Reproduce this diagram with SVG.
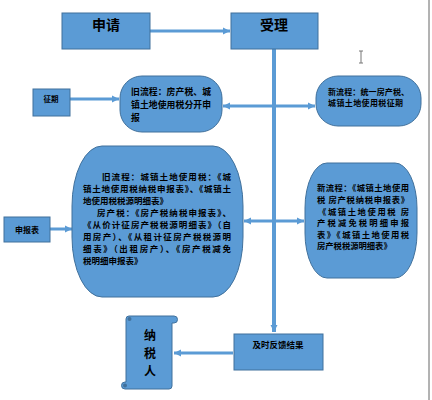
<svg xmlns="http://www.w3.org/2000/svg" width="432" height="400" viewBox="0 0 432 400">
<defs>
<style>
.box{fill:#5B9BD5;stroke:#41719C;stroke-width:1}
.t{font-family:"Noto Sans CJK SC","Liberation Sans",sans-serif;font-weight:bold;fill:#000}
.c{stroke:#5B9BD5;stroke-width:3;fill:none}
</style>
<marker id="ah" markerUnits="userSpaceOnUse" markerWidth="8" markerHeight="8" refX="7" refY="4" orient="auto">
<path d="M0,0.5 L7,4 L0,7.5 Z" fill="#5B9BD5"/>
</marker>
</defs>
<rect width="432" height="400" fill="#fff"/>
<line x1="429" y1="0" x2="429" y2="400" stroke="#666" stroke-width="1"/>
<g id="cursor" stroke="#777" stroke-width="1" fill="none">
<path d="M359,51 H363 M361,51 V63 M359,63 H363"/>
</g>
<g id="connectors">
<line class="c" x1="150" y1="31" x2="230" y2="31" marker-end="url(#ah)"/>
<line class="c" x1="274" y1="49" x2="274" y2="332" style="stroke-width:4" marker-end="url(#ah)"/>
<line class="c" x1="274" y1="106" x2="223" y2="106" marker-end="url(#ah)"/>
<line class="c" x1="274" y1="106" x2="315" y2="106" marker-end="url(#ah)"/>
<line class="c" x1="70" y1="99" x2="119" y2="99" marker-end="url(#ah)"/>
<line class="c" x1="274" y1="221" x2="244" y2="221" marker-end="url(#ah)"/>
<line class="c" x1="274" y1="221" x2="304" y2="221" marker-end="url(#ah)"/>
<line class="c" x1="50" y1="229" x2="72" y2="229" marker-end="url(#ah)"/>
<line class="c" x1="233" y1="353" x2="174" y2="353" marker-end="url(#ah)"/>
</g>
<g id="shenqing">
<rect class="box" x="62" y="13" width="88" height="36"/>
<text class="t" x="106" y="30" font-size="14" text-anchor="middle">申请</text>
</g>
<g id="shouli">
<rect class="box" x="231" y="13" width="87" height="36"/>
<text class="t" x="274" y="30" font-size="14" text-anchor="middle">受理</text>
</g>
<g id="zhengqi">
<rect class="box" x="33" y="89" width="37" height="27"/>
<text class="t" x="51" y="102" font-size="7.5" text-anchor="middle">征期</text>
</g>
<g id="old-process">
<rect class="box" x="120" y="76" width="102" height="56" rx="22" ry="22"/>
<text class="t" font-size="8.8"><tspan x="131" y="95" textLength="80" lengthAdjust="spacing">旧流程：房产税、城</tspan><tspan x="131" y="108" textLength="80" lengthAdjust="spacing">镇土地使用税分开申</tspan><tspan x="131" y="121">报</tspan></text>
</g>
<g id="new-process">
<rect class="box" x="316" y="76" width="105" height="50" rx="22" ry="22"/>
<text class="t" font-size="8"><tspan x="328" y="95" textLength="81" lengthAdjust="spacing">新流程：统一房产税、</tspan><tspan x="328" y="106" textLength="75" lengthAdjust="spacing">城镇土地使用税征期</tspan></text>
</g>
<g id="shenbaobiao">
<rect class="box" x="4" y="217" width="46" height="25"/>
<text class="t" x="27" y="233" font-size="8" text-anchor="middle">申报表</text>
</g>
<g id="old-forms">
<path class="box" d="M102,146 H213 A30,60 0 0 1 243,206 V237 A30,60 0 0 1 213,297 H102 A30,60 0 0 1 72,237 V206 A30,60 0 0 1 102,146 Z"/>
<text class="t" font-size="8.5">
<tspan x="102" y="180" textLength="129" lengthAdjust="spacing">旧流程：城镇土地使用税：《城</tspan>
<tspan x="83" y="192" textLength="148" lengthAdjust="spacing">镇土地使用税纳税申报表》、《城镇土</tspan>
<tspan x="83" y="204">地使用税税源明细表》</tspan>
<tspan x="97" y="216" textLength="134" lengthAdjust="spacing">房产税：《房产税纳税申报表》、</tspan>
<tspan x="83" y="228" textLength="148" lengthAdjust="spacing">《从价计征房产税税源明细表》（自</tspan>
<tspan x="83" y="240" textLength="148" lengthAdjust="spacing">用房产）、《从租计征房产税税源明</tspan>
<tspan x="83" y="252" textLength="148" lengthAdjust="spacing">细表》（出租房产）、《房产税减免</tspan>
<tspan x="83" y="264">税明细申报表》</tspan>
</text>
</g>
<g id="new-forms">
<path class="box" d="M327,163 H395 A22,45 0 0 1 417,208 V233 A22,45 0 0 1 395,278 H327 A22,45 0 0 1 305,233 V208 A22,45 0 0 1 327,163 Z"/>
<text class="t" font-size="8.3">
<tspan x="317" y="191" textLength="92" lengthAdjust="spacing">新流程：《城镇土地使用</tspan>
<tspan x="317" y="203" textLength="92" lengthAdjust="spacing">税 房产税纳税申报表》</tspan>
<tspan x="318" y="215" textLength="91" lengthAdjust="spacing">《城镇土地使用税 房</tspan>
<tspan x="317" y="226" textLength="92" lengthAdjust="spacing">产税减免税明细申报</tspan>
<tspan x="317" y="238" textLength="92" lengthAdjust="spacing">表》《城镇土地使用税</tspan>
<tspan x="317" y="249">房产税税源明细表》</tspan>
</text>
</g>
<g id="feedback">
<rect class="box" x="234" y="334" width="89" height="36"/>
<text class="t" x="278" y="348" font-size="8.5" text-anchor="middle">及时反馈结果</text>
</g>
<g id="taxpayer">
<path class="box" d="M129,316 H174 A3.5,3.5 0 0 1 174,323 H172 V386 A3,3 0 0 1 169,389 H125 A3.5,3.5 0 0 1 125,382 H126 V319 A3,3 0 0 1 129,316 Z"/>
<circle cx="129.5" cy="319" r="2" fill="#41719C"/>
<circle cx="125" cy="385.5" r="2" fill="#41719C"/>
<text class="t" font-size="12" text-anchor="middle"><tspan x="150" y="340">纳</tspan><tspan x="150" y="358">税</tspan><tspan x="150" y="376">人</tspan></text>
</g>
</svg>
